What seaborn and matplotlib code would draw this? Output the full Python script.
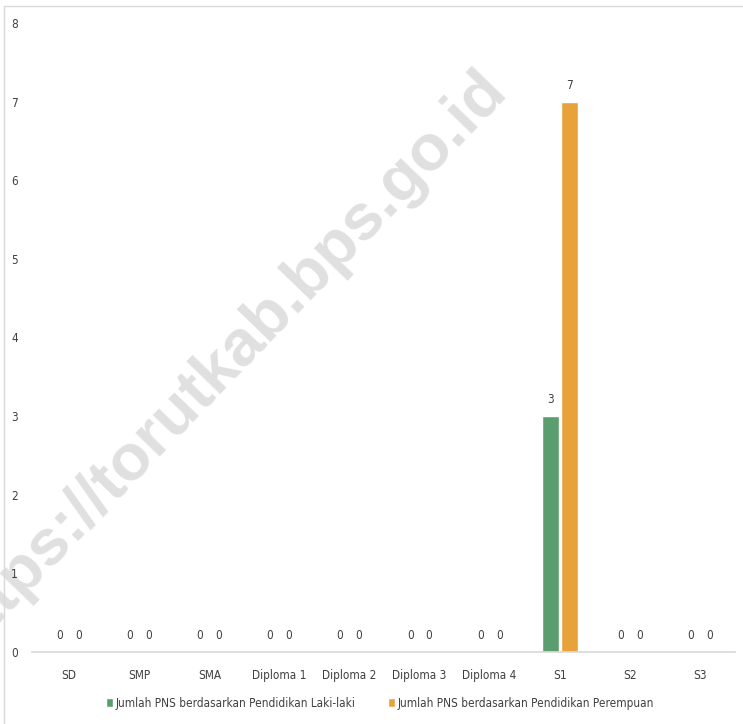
import matplotlib
matplotlib.use("Agg")
import matplotlib.pyplot as plt
import seaborn as sns
import pandas as pd
from matplotlib.patches import Rectangle

categories = ["SD", "SMP", "SMA", "Diploma 1", "Diploma 2", "Diploma 3", "Diploma 4", "S1", "S2", "S3"]
laki = [0, 0, 0, 0, 0, 0, 0, 3, 0, 0]
perempuan = [0, 0, 0, 0, 0, 0, 0, 7, 0, 0]
series_names = ["Jumlah PNS berdasarkan Pendidikan Laki-laki",
                "Jumlah PNS berdasarkan Pendidikan Perempuan"]
colors = ["#5a9e6f", "#e8a23a"]

sns.set_theme(style="white")
plt.rcParams["font.family"] = ["DejaVu Sans"]
plt.rcParams["font.stretch"] = "condensed"

df = pd.DataFrame({
    "cat": categories * 2,
    "val": laki + perempuan,
    "series": [series_names[0]] * len(categories) + [series_names[1]] * len(categories),
})

fig = plt.figure(figsize=(7.43, 7.24), dpi=100)

# watermark (behind everything)
fig.text(224 / 743, 1 - 362 / 724, "https://torutkab.bps.go.id", rotation=46,
         fontsize=47, fontweight="bold", color="#e0e0e0", ha="center", va="center",
         family="Liberation Sans", stretch="normal", zorder=-1)

ax = fig.add_axes([32 / 743, 1 - 652 / 724, 703 / 743, (652 - 23) / 724])
ax.patch.set_alpha(0)

sns.barplot(data=df, x="cat", y="val", hue="series", palette=colors,
            width=0.54, gap=0.1, ax=ax, legend=True, saturation=1)

for cont in ax.containers:
    ax.bar_label(cont, fmt="%d", padding=7, fontsize=8.5, color="#404040")

ax.set_ylim(0, 8)
ax.set_xlim(-0.53, 9.5)
ax.set_yticks(range(0, 9))
ax.set_xlabel("")
ax.set_ylabel("")
for s in ["top", "right", "left"]:
    ax.spines[s].set_visible(False)
ax.spines["bottom"].set_color("#d9d9d9")
ax.tick_params(axis="both", length=0, labelsize=8.5, colors="#404040")
ax.tick_params(axis="x", pad=12)
ax.tick_params(axis="y", pad=10)

leg = ax.legend(loc="center", bbox_to_anchor=(380 / 743, 1 - 703 / 724),
                bbox_transform=fig.transFigure, ncol=2, frameon=False,
                fontsize=8.5, handlelength=0.6, handleheight=0.9, handletextpad=0.2,
                columnspacing=2.8, labelcolor="#404040")

# frame
fig.patches.append(Rectangle((4 / 743, -0.1), 1.1, 1 - 6 / 724 + 0.1,
                             transform=fig.transFigure, fill=False,
                             edgecolor="#d9d9d9", linewidth=1))

fig.savefig("out.png", dpi=100)
